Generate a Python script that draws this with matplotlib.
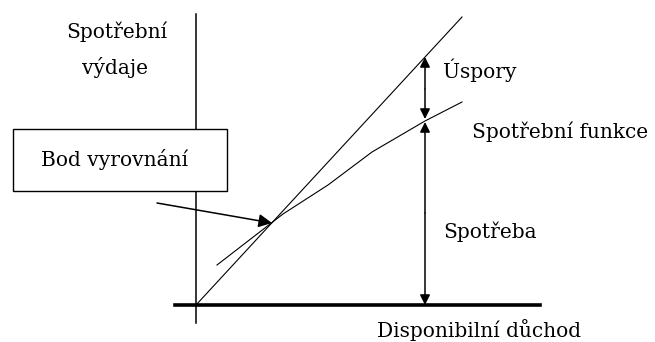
import matplotlib
matplotlib.use("Agg")
import matplotlib.pyplot as plt

# Keynesian consumption diagram; units: income (x) and spending (y) from the origin
guide_income = [0, 266]          # 45° line (spending = income)
guide_spending = [0, 288]
cons_income = [21, 87, 132, 176, 229, 266]      # consumption function
cons_spending = [40, 91, 120, 153, 184, 203]
breakeven = (76, 82)             # Bod vyrovnání
arrow_income = 229               # where savings / consumption are measured
savings_top = 248
consumption_top = 184

labels = {
    "y_axis_1": "Spotřební",
    "y_axis_2": "výdaje",
    "x_axis": "Disponibilní důchod",
    "savings": "Úspory",
    "function": "Spotřební funkce",
    "consumption": "Spotřeba",
    "breakeven": "Bod vyrovnání",
}

fig = plt.figure(figsize=(6.55, 3.42), dpi=100)
ax = fig.add_axes([0, 0, 1, 1])
ax.set_xlim(-196, 459)
ax.set_ylim(-37, 305)
ax.axis("off")

font = dict(family="DejaVu Serif", fontsize=14.5, color="black")

# axes
ax.plot([0, 0], [-18, 291], color="black", lw=1.1)
ax.plot([-21, 344], [0, 0], color="black", lw=2.6)

# 45° line and consumption function
ax.plot(guide_income, guide_spending, color="black", lw=0.8)
ax.plot(cons_income, cons_spending, color="black", lw=0.8)

head = dict(arrowstyle="-|>", color="black", lw=1.1, mutation_scale=15, shrinkA=0, shrinkB=0)
mid_s = (savings_top + consumption_top) / 2
ax.annotate("", xy=(arrow_income, savings_top), xytext=(arrow_income, mid_s), arrowprops=head)
ax.annotate("", xy=(arrow_income, consumption_top + 2), xytext=(arrow_income, mid_s), arrowprops=head)
ax.annotate("", xy=(arrow_income, consumption_top - 1), xytext=(arrow_income, consumption_top / 2), arrowprops=head)
ax.annotate("", xy=(arrow_income, 0), xytext=(arrow_income, consumption_top / 2), arrowprops=head)

# box + pointer to the break-even point
ax.add_patch(plt.Rectangle((-183, 114), 214, 62, fc="white", ec="black", lw=1.0, zorder=3))
ax.text(-81, 146, labels["breakeven"], ha="center", va="center", zorder=4, **font)
ax.annotate("", xy=breakeven, xytext=(-39, 102),
            arrowprops=dict(arrowstyle="-|>", color="black", lw=1.1, mutation_scale=20, shrinkA=0, shrinkB=0))

ax.text(-79, 273, labels["y_axis_1"], ha="center", va="center", **font)
ax.text(-81, 238, labels["y_axis_2"], ha="center", va="center", **font)
ax.text(247, 235, labels["savings"], ha="left", va="center", **font)
ax.text(276, 173, labels["function"], ha="left", va="center", **font)
ax.text(247, 73, labels["consumption"], ha="left", va="center", **font)
ax.text(181, -32, labels["x_axis"], ha="left", va="baseline", **font)

fig.savefig("out.png", dpi=100, facecolor="white")
